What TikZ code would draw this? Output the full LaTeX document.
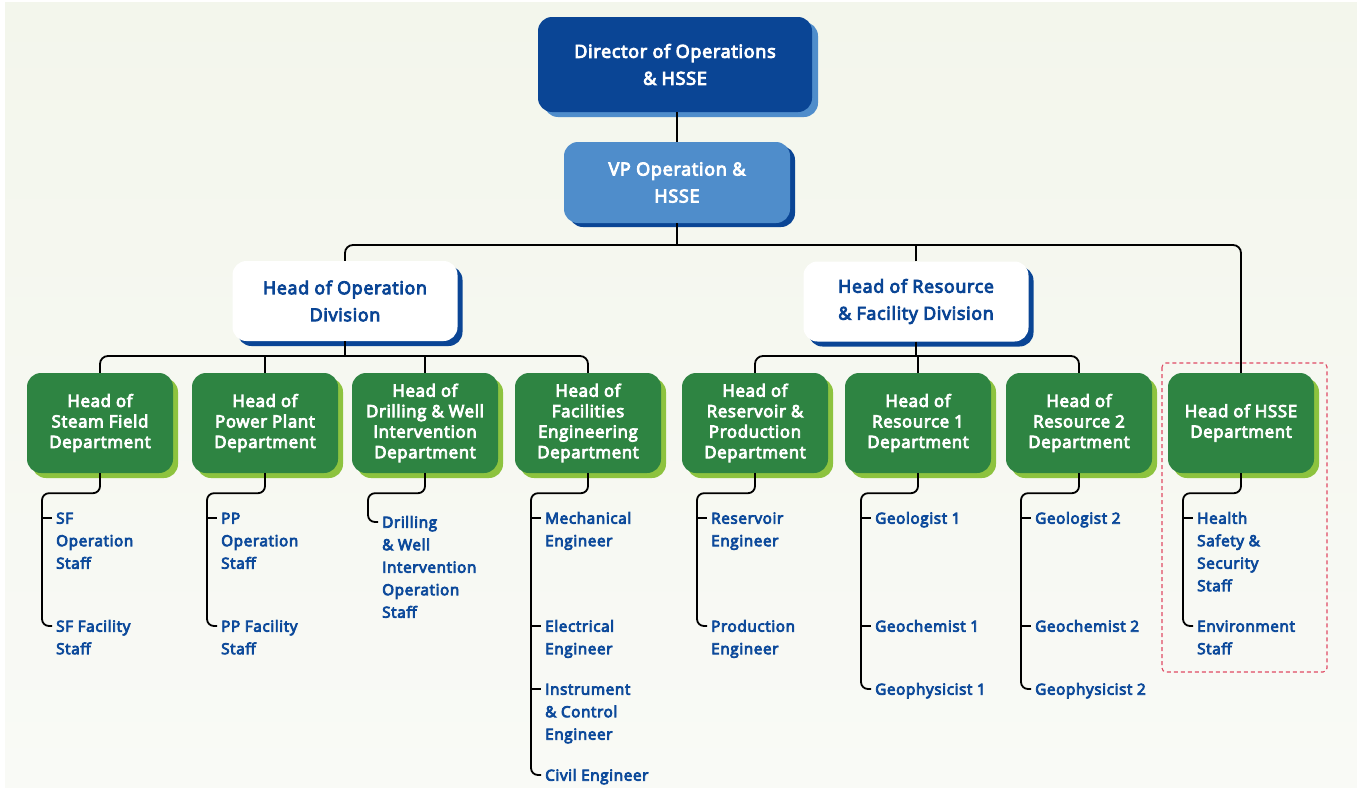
\documentclass[tikz,border=0pt]{standalone}
\usepackage{fontspec}
\setmainfont{Open Sans}
\newfontfamily\heavysans{Open Sans}[FakeBold=5, LetterSpace=4]
\usetikzlibrary{shadows,calc}
\definecolor{dblue}{HTML}{0A4595}
\definecolor{lblue}{HTML}{4F8DCB}
\definecolor{dgreen}{HTML}{2E8442}
\definecolor{lgreen}{HTML}{8DC33F}
\definecolor{stafftxt}{HTML}{0D4A9B}
\definecolor{bgtop}{HTML}{F3F6EC}
\definecolor{bgbot}{HTML}{F9FAF6}
\definecolor{dashred}{HTML}{E04A64}
\newcommand\stafftick[1]{\draw[conn] ($(#1.north west)+(-14,10.25)$) -- ($(#1.north west)+(-4,10.25)$);}
\newcommand\staffbranch[2]{\draw[conn,rounded corners=7pt] (#1.south) -- ++(0,20) -| ($(#2.north west)+(-14,10.25)$) -- ($(#2.north west)+(-4,10.25)$);}
\begin{document}
\begin{tikzpicture}[x=1pt,y=-1pt,
  box/.style={rounded corners=14pt, align=center, inner sep=0pt},
  topfont/.style={font=\heavysans\fontsize{18}{27}\selectfont},
  dirbox/.style={box, topfont, fill=dblue, text=white, minimum width=274pt, minimum height=95pt,
    general shadow={fill=lblue, shadow xshift=6pt, shadow yshift=-5pt}},
  vpbox/.style={box, topfont, fill=lblue, text=white, minimum width=226pt, minimum height=81pt,
    general shadow={fill=dblue, shadow xshift=5pt, shadow yshift=-4pt}},
  divbox/.style={box, font=\heavysans\fontsize{17.8}{27}\selectfont, fill=white, text=dblue, minimum width=225pt, minimum height=80pt,
    general shadow={fill=dblue, shadow xshift=5pt, shadow yshift=-5pt}},
  depbox/.style={box, font=\heavysans\fontsize{16.8}{20.5}\selectfont, fill=dgreen, text=white, minimum width=146pt, minimum height=100pt,
    general shadow={fill=lgreen, shadow xshift=5pt, shadow yshift=-5pt}},
  staff/.style={anchor=north west, inner sep=0pt, align=left, text=stafftxt, font=\heavysans\fontsize{15.3}{22.5}\selectfont},
  conn/.style={draw=black, line width=1.8pt},
]
\useasboundingbox (0,0) rectangle (1357,787);
\fill[white] (0,0) rectangle (1357,787);
\shade[top color=bgtop, bottom color=bgbot] (5,2) rectangle (1357,787);

% top
\node[dirbox] (dir) at (675,64.5) {Director of Operations\\\& HSSE};
\node[vpbox] (vp) at (677,182.5) {VP Operation \&\\HSSE};
\node[divbox] (opdiv) at (345,301) {Head of Operation\\Division};
\node[divbox] (resdiv) at (916,301.5) {Head of Resource\\\& Facility Division};

% departments
\node[depbox] (sf) at (100,423) {Head of\\Steam Field\\Department};
\node[depbox] (pp) at (265,423) {Head of\\Power Plant\\Department};
\node[depbox] (dw) at (425,423) {Head of\\Drilling \& Well\\Intervention\\Department};
\node[depbox] (fe) at (588,423) {Head of\\Facilities\\Engineering\\Department};
\node[depbox] (rp) at (755,423) {Head of\\Reservoir \&\\Production\\Department};
\node[depbox] (r1) at (918,423) {Head of\\Resource 1\\Department};
\node[depbox] (r2) at (1079,423) {Head of\\Resource 2\\Department};
\node[depbox] (hs) at (1241,423) {Head of HSSE\\Department};

% dashed frame
\draw[dashred, line width=1.1pt, dash pattern=on 4pt off 3pt, rounded corners=4pt] (1162,363) rectangle (1327,672);

% staff
\node[staff] (s11) at (56,507.75) {\strut SF\\Operation\\Staff};
\node[staff] (s12) at (56,615.75) {\strut SF Facility\\Staff};
\node[staff] (s21) at (221,507.75) {\strut PP\\Operation\\Staff};
\node[staff] (s22) at (221,615.75) {\strut PP Facility\\Staff};
\node[staff] (s31) at (382,511.75) {\strut Drilling\\\& Well\\Intervention\\Operation\\Staff};
\node[staff] (s41) at (545,507.75) {\strut Mechanical\\Engineer};
\node[staff] (s42) at (545,615.75) {\strut Electrical\\Engineer};
\node[staff] (s43) at (545,678.75) {\strut Instrument\\\& Control\\Engineer};
\node[staff] (s44) at (545,764.75) {\strut Civil Engineer};
\node[staff] (s51) at (711,507.75) {\strut Reservoir\\Engineer};
\node[staff] (s52) at (711,615.75) {\strut Production\\Engineer};
\node[staff] (s61) at (875,507.75) {\strut Geologist 1};
\node[staff] (s62) at (875,615.75) {\strut Geochemist 1};
\node[staff] (s63) at (875,678.75) {\strut Geophysicist 1};
\node[staff] (s71) at (1035,507.75) {\strut Geologist 2};
\node[staff] (s72) at (1035,615.75) {\strut Geochemist 2};
\node[staff] (s73) at (1035,678.75) {\strut Geophysicist 2};
\node[staff] (s81) at (1197,507.75) {\strut Health\\Safety \&\\Security\\Staff};
\node[staff] (s82) at (1197,615.75) {\strut Environment\\Staff};

% connectors: top
\draw[conn] (dir.south -| vp.north) -- (vp.north);
\draw[conn, rounded corners=8pt] (opdiv.north) -- (opdiv.north |- 0,245) -- (hs.north |- 0,245) -- (hs.north);
\draw[conn] (vp.south) -- (vp.south |- 0,245);
\draw[conn] (resdiv.north) -- (resdiv.north |- 0,245);

% division buses
\draw[conn, rounded corners=8pt] (sf.north) -- (sf.north |- 0,356) -- (fe.north |- 0,356) -- (fe.north);
\draw[conn] (opdiv.south) -- (opdiv.south |- 0,356);
\draw[conn] (pp.north) -- (pp.north |- 0,356);
\draw[conn] (dw.north) -- (dw.north |- 0,356);
\draw[conn, rounded corners=8pt] (rp.north) -- (rp.north |- 0,356) -- (r2.north |- 0,356) -- (r2.north);
\draw[conn] (resdiv.south) -- (resdiv.south |- 0,356);
\draw[conn] (r1.north) -- (r1.north |- 0,356);

% staff branches
\staffbranch{sf}{s12} \stafftick{s11}
\staffbranch{pp}{s22} \stafftick{s21}
\staffbranch{dw}{s31}
\staffbranch{fe}{s44} \stafftick{s41} \stafftick{s42} \stafftick{s43}
\staffbranch{rp}{s52} \stafftick{s51}
\staffbranch{r1}{s63} \stafftick{s61} \stafftick{s62}
\staffbranch{r2}{s73} \stafftick{s71} \stafftick{s72}
\staffbranch{hs}{s82} \stafftick{s81}
\end{tikzpicture}
\end{document}
